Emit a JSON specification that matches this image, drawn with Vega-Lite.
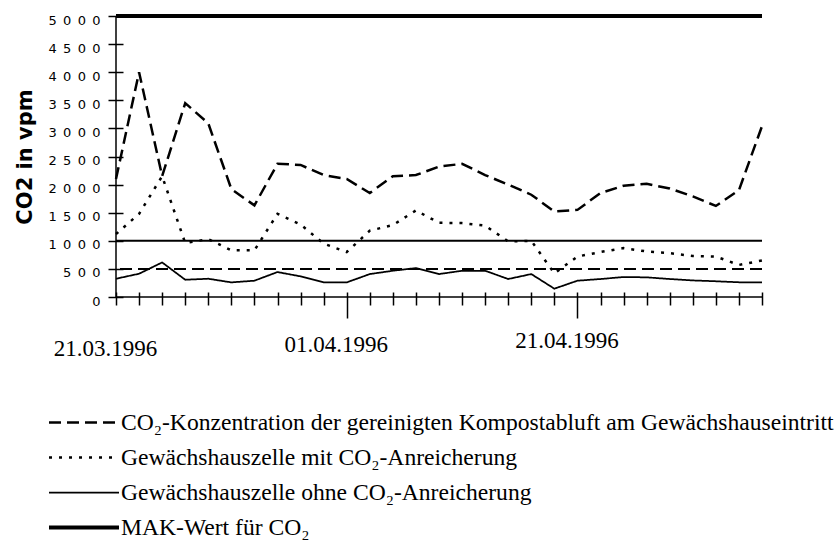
{
  "$schema": "https://vega.github.io/schema/vega-lite/v6.json",
  "width": 646,
  "height": 281,
  "autosize": "none",
  "padding": {"left": 116, "top": 16, "right": 78, "bottom": 244},
  "background": "white",
  "config": {"view": {"stroke": null}},
  "datasets": {
    "messwerte": [
      {"n": 0, "k": 2100, "m": 1120, "o": 325, "mak": 5000},
      {"n": 1, "k": 4000, "m": 1480, "o": 414, "mak": 5000},
      {"n": 2, "k": 2150, "m": 2150, "o": 615, "mak": 5000},
      {"n": 3, "k": 3450, "m": 960, "o": 307, "mak": 5000},
      {"n": 4, "k": 3090, "m": 1030, "o": 325, "mak": 5000},
      {"n": 5, "k": 1920, "m": 830, "o": 260, "mak": 5000},
      {"n": 6, "k": 1630, "m": 830, "o": 290, "mak": 5000},
      {"n": 7, "k": 2370, "m": 1480, "o": 444, "mak": 5000},
      {"n": 8, "k": 2350, "m": 1290, "o": 367, "mak": 5000},
      {"n": 9, "k": 2170, "m": 950, "o": 260, "mak": 5000},
      {"n": 10, "k": 2100, "m": 800, "o": 260, "mak": 5000},
      {"n": 11, "k": 1850, "m": 1180, "o": 408, "mak": 5000},
      {"n": 12, "k": 2150, "m": 1280, "o": 467, "mak": 5000},
      {"n": 13, "k": 2170, "m": 1540, "o": 515, "mak": 5000},
      {"n": 14, "k": 2320, "m": 1320, "o": 408, "mak": 5000},
      {"n": 15, "k": 2370, "m": 1315, "o": 467, "mak": 5000},
      {"n": 16, "k": 2170, "m": 1270, "o": 467, "mak": 5000},
      {"n": 17, "k": 2000, "m": 990, "o": 320, "mak": 5000},
      {"n": 18, "k": 1820, "m": 1000, "o": 408, "mak": 5000},
      {"n": 19, "k": 1520, "m": 420, "o": 148, "mak": 5000},
      {"n": 20, "k": 1550, "m": 720, "o": 290, "mak": 5000},
      {"n": 21, "k": 1850, "m": 800, "o": 320, "mak": 5000},
      {"n": 22, "k": 1980, "m": 870, "o": 355, "mak": 5000},
      {"n": 23, "k": 2015, "m": 810, "o": 350, "mak": 5000},
      {"n": 24, "k": 1930, "m": 780, "o": 320, "mak": 5000},
      {"n": 25, "k": 1790, "m": 730, "o": 295, "mak": 5000},
      {"n": 26, "k": 1620, "m": 720, "o": 280, "mak": 5000},
      {"n": 27, "k": 1900, "m": 570, "o": 262, "mak": 5000},
      {"n": 28, "k": 3040, "m": 650, "o": 260, "mak": 5000}
    ],
    "reihen": [
      {"key": "k", "Reihe": "CO₂-Konzentration der gereinigten Kompostabluft am Gewächshauseintritt"},
      {"key": "m", "Reihe": "Gewächshauszelle mit CO₂-Anreicherung"},
      {"key": "o", "Reihe": "Gewächshauszelle ohne CO₂-Anreicherung"},
      {"key": "mak", "Reihe": "MAK-Wert für CO₂"}
    ]
  },
  "layer": [
    {
      "data": {"name": "messwerte"},
      "transform": [
        {"fold": ["k", "m", "o", "mak"], "as": ["key", "v"]},
        {"lookup": "key", "from": {"data": {"name": "reihen"}, "key": "key", "fields": ["Reihe"]}}
      ],
      "mark": {"type": "line", "color": "black", "strokeCap": "butt"},
      "encoding": {
        "x": {
          "field": "n",
          "type": "quantitative",
          "scale": {"domain": [0, 28], "nice": false, "zero": false},
          "axis": {
            "title": null,
            "values": [0,1,2,3,4,5,6,7,8,9,10,11,12,13,14,15,16,17,18,19,20,21,22,23,24,25,26,27,28],
            "tickCount": 29,
            "labelExpr": "datum.value == 0 ? '21.03.1996' : datum.value == 10 ? '01.04.1996' : datum.value == 20 ? '21.04.1996' : ''",
            "labelFont": "Liberation Serif",
            "labelFontSize": 23,
            "labelColor": "black",
            "labelOffset": -11,
            "labelBaseline": "top",
            "labelPadding": {"condition": [{"test": "datum.value == 0", "value": 32}, {"test": "datum.value == 10", "value": 15}], "value": 11},
            "labelFlush": false,
            "labelOverlap": false,
            "offset": -5,
            "domain": false,
            "grid": false,
            "tickColor": "black",
            "tickWidth": 1.5,
            "tickSize": {"condition": {"test": "datum.value == 10 || datum.value == 20", "value": 26}, "value": 13}
          }
        },
        "y": {
          "field": "v",
          "type": "quantitative",
          "scale": {"domain": [0, 5000], "nice": false},
          "axis": {
            "title": "CO2 in vpm",
            "titleFont": "DejaVu Sans",
            "titleFontSize": 21,
            "titleFontWeight": "bold",
            "titleColor": "black",
            "titlePadding": 13,
            "values": [0, 500, 1000, 1500, 2000, 2500, 3000, 3500, 4000, 4500, 5000],
            "tickCount": 11,
            "labelExpr": "join(split(toString(datum.value), ''), '\u00a0\u2006')",
            "labelFont": "DejaVu Sans",
            "labelFontSize": 13,
            "labelColor": "black",
            "labelPadding": 8,
            "labelOffset": 4,
            "labelFlush": false,
            "labelOverlap": false,
            "offset": -7,
            "domain": false,
            "grid": false,
            "tickColor": "black",
            "tickWidth": 1.5,
            "tickSize": 15
          }
        },
        "strokeDash": {
          "field": "Reihe",
          "type": "nominal",
          "scale": {
            "domain": ["CO₂-Konzentration der gereinigten Kompostabluft am Gewächshauseintritt", "Gewächshauszelle mit CO₂-Anreicherung", "Gewächshauszelle ohne CO₂-Anreicherung", "MAK-Wert für CO₂"],
            "range": [[12, 6], [3, 7], [1, 0], [1, 0]]
          },
          "legend": {
            "title": null, "orient": "none", "legendX": -69, "legendY": 389, "direction": "vertical",
            "symbolType": "stroke", "symbolSize": 4900, "symbolStrokeColor": "black",
            "labelFont": "Liberation Serif", "labelFontSize": 23.6, "labelColor": "black", "labelLimit": 0,
            "labelOffset": 0, "rowPadding": 0, "clipHeight": 35, "padding": 0
          }
        },
        "strokeWidth": {
          "field": "Reihe",
          "type": "nominal",
          "scale": {
            "type": "ordinal",
            "domain": ["CO₂-Konzentration der gereinigten Kompostabluft am Gewächshauseintritt", "Gewächshauszelle mit CO₂-Anreicherung", "Gewächshauszelle ohne CO₂-Anreicherung", "MAK-Wert für CO₂"],
            "range": [2.5, 2.5, 1.75, 4]
          },
          "legend": {
            "title": null, "orient": "none", "legendX": -69, "legendY": 389, "direction": "vertical",
            "symbolType": "stroke", "symbolSize": 4900, "symbolStrokeColor": "black",
            "labelFont": "Liberation Serif", "labelFontSize": 23.6, "labelColor": "black", "labelLimit": 0,
            "labelOffset": 0, "rowPadding": 0, "clipHeight": 35, "padding": 0
          }
        }
      }
    },
    {
      "data": {"values": [{"v": 1000}]},
      "mark": {"type": "rule", "color": "black", "strokeWidth": 2},
      "encoding": {"y": {"field": "v", "type": "quantitative"}}
    },
    {
      "data": {"values": [{"v": 500}]},
      "mark": {"type": "rule", "color": "black", "strokeWidth": 2, "strokeDash": [12, 6]},
      "encoding": {"y": {"field": "v", "type": "quantitative"}}
    },
    {
      "data": {"values": [{"v": 0}]},
      "mark": {"type": "rule", "color": "black", "strokeWidth": 1.5},
      "encoding": {"y": {"field": "v", "type": "quantitative"}}
    },
    {
      "data": {"values": [{"n": 0}]},
      "mark": {"type": "rule", "color": "black", "strokeWidth": 1.5},
      "encoding": {"x": {"field": "n", "type": "quantitative"}}
    }
  ]
}
